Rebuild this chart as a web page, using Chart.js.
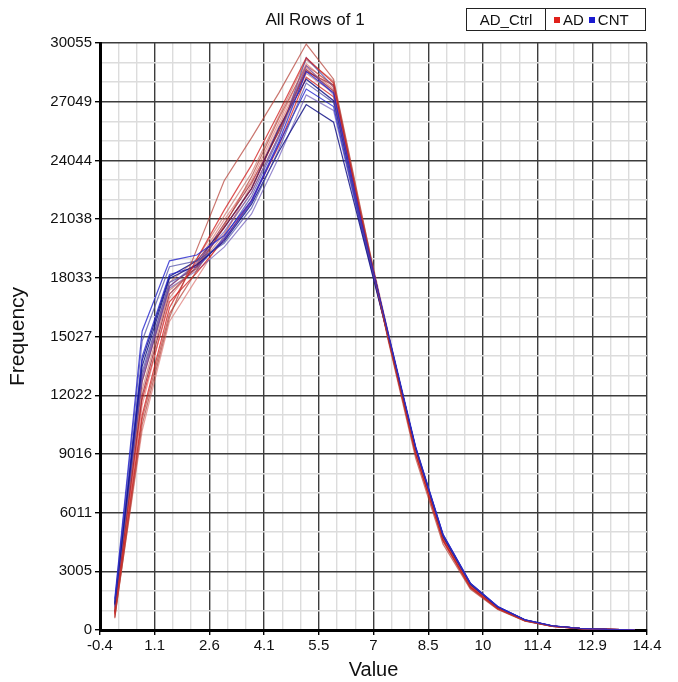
<!DOCTYPE html>
<html>
<head>
<meta charset="utf-8">
<script src="https://cdn.jsdelivr.net/npm/chart.js@4.4.1/dist/chart.umd.min.js"></script>
<style>
  body { margin: 0; background: #fff; font-family: "Liberation Sans", Arial, sans-serif; }
  #wrap { position: relative; width: 678px; height: 682px; }
  #title { position: absolute; left: 225px; width: 180px; top: 10px; text-align: center; font-size: 17px; color: #111; }
  #legend { position: absolute; left: 466px; top: 8px; width: 180px; height: 23px; border: 1px solid #222;
            display: flex; font-size: 15px; color: #111; box-sizing: border-box; }
  #legend .cell { display: flex; align-items: center; padding: 0 6px; }
  #legend .first { border-right: 1px solid #222; width: 79px; justify-content: center; box-sizing: border-box; }
  #legend .sq { width: 6px; height: 6px; display: inline-block; margin: 0 3px 0 2px; }
</style>
</head>
<body>
<div id="wrap">
  <canvas id="myChart"></canvas>
  <div id="title">All Rows of 1</div>
  <div id="legend">
    <div class="cell first">AD_Ctrl</div>
    <div class="cell"><span class="sq" style="background:#e0201a"></span>AD<span class="sq" style="background:#1a1ad0;margin-left:5px"></span>CNT</div>
  </div>
</div>
<script>
// bin centres along x
var xValues = [0, 0.74, 1.48, 2.22, 2.96, 3.7, 4.44, 5.18, 5.92, 6.66, 7.4, 8.14, 8.88, 9.62, 10.36, 11.1, 11.84, 12.58, 13.32, 14.06];

var xTickLabels = ['-0.4', '1.1', '2.6', '4.1', '5.5', '7', '8.5', '10', '11.4', '12.9', '14.4'];
var yTickLabels = ['0', '3005', '6011', '9016', '12022', '15027', '18033', '21038', '24044', '27049', '30055'];

// AD rows (red)
var adRows = [
  [600, 10500, 16000, 19500, 23000, 25200, 27500, 30000, 28200, 21500, 14800, 8800, 4400, 2100, 1050, 450, 180, 70, 25, 8],
  [800, 11000, 16500, 19000, 21500, 23800, 26500, 29300, 28000, 21200, 14900, 9000, 4600, 2200, 1100, 480, 190, 75, 28, 9],
  [700, 11500, 17000, 18800, 21000, 23000, 26000, 29000, 27800, 21000, 15000, 9100, 4700, 2250, 1120, 490, 200, 78, 30, 10],
  [900, 12000, 17200, 18600, 20600, 22600, 25600, 28700, 27600, 21100, 15100, 9200, 4750, 2280, 1130, 500, 200, 80, 30, 10],
  [1000, 12300, 17400, 18500, 20300, 22400, 25300, 28500, 27500, 21000, 15000, 9150, 4700, 2270, 1140, 500, 200, 80, 30, 10],
  [650, 10800, 16200, 18400, 20700, 23200, 26200, 28900, 27900, 21300, 15000, 9000, 4550, 2150, 1080, 470, 190, 74, 27, 9],
  [850, 11800, 16800, 18300, 20000, 22000, 24800, 28300, 27300, 20900, 14900, 9050, 4650, 2200, 1100, 480, 195, 76, 28, 9],
  [750, 10200, 15800, 18000, 20200, 22800, 25800, 28800, 27700, 21200, 15000, 9100, 4600, 2180, 1090, 470, 190, 75, 28, 9],
  [950, 12700, 17600, 18700, 20800, 22900, 25500, 28600, 27900, 21100, 15100, 9250, 4800, 2300, 1150, 510, 205, 82, 31, 10],
  [1100, 13000, 17800, 19000, 21200, 23400, 26300, 29200, 28100, 21400, 15200, 9200, 4700, 2250, 1130, 490, 200, 78, 30, 10]
];

// CNT rows (blue)
var cntRows = [
  [1600, 15300, 18900, 19200, 20200, 22000, 25000, 28600, 27500, 21000, 15200, 9400, 4900, 2400, 1200, 520, 210, 85, 32, 11],
  [1500, 14800, 18600, 18900, 19800, 21600, 24600, 28000, 27000, 20800, 15100, 9350, 4850, 2380, 1190, 515, 205, 83, 31, 10],
  [1300, 13500, 18000, 18700, 19900, 21800, 24500, 26900, 26000, 20500, 15000, 9300, 4800, 2350, 1170, 510, 205, 82, 31, 10],
  [1200, 13000, 17600, 18800, 20400, 22400, 25300, 28900, 27400, 20900, 15100, 9300, 4850, 2370, 1180, 510, 205, 82, 31, 10],
  [1400, 14000, 18200, 18600, 20000, 21900, 24900, 27700, 26800, 20700, 15050, 9350, 4900, 2400, 1200, 520, 210, 84, 32, 11],
  [1250, 13200, 17800, 18500, 20100, 22200, 25200, 29300, 27800, 21100, 15150, 9250, 4800, 2340, 1160, 505, 205, 82, 31, 10],
  [1350, 13800, 18100, 18900, 20600, 22600, 25700, 28200, 27100, 20900, 15100, 9300, 4830, 2360, 1180, 510, 205, 82, 31, 10],
  [1150, 12800, 17500, 18400, 19600, 21300, 24200, 27400, 26600, 20600, 15000, 9300, 4870, 2380, 1190, 515, 208, 83, 31, 10]
];

var redShades = ['rgba(180,60,50,0.7)', 'rgba(210,25,25,0.75)', 'rgba(215,95,90,0.6)', 'rgba(150,25,40,0.75)', 'rgba(195,105,95,0.65)'];
var blueShades = ['rgba(35,35,205,0.8)', 'rgba(70,70,165,0.7)', 'rgba(20,20,135,0.85)', 'rgba(95,75,180,0.65)'];

function toPoints(row) {
  return row.map(function (v, i) { return { x: xValues[i], y: v }; });
}

// mix red and blue so neither colour sits entirely on top
var datasets = [];
var n = Math.max(adRows.length, cntRows.length);
for (var i = 0; i < n; i++) {
  if (i < cntRows.length) datasets.push({ label: 'CNT', data: toPoints(cntRows[i]), borderColor: blueShades[i % blueShades.length] });
  if (i < adRows.length) datasets.push({ label: 'AD', data: toPoints(adRows[i]), borderColor: redShades[i % redShades.length] });
}
datasets.forEach(function (d) { d.borderWidth = 1.2; d.pointRadius = 0; d.tension = 0; d.fill = false; });

function majorOrMinor(ctx, major, minor) {
  return ctx.index % 3 === 0 ? major : minor;
}

function buildTicks(min, max) {
  return function (scale) {
    var t = [];
    for (var i = 0; i <= 30; i++) t.push({ value: min + (max - min) * i / 30 });
    scale.ticks = t;
  };
}

const ctx = document.getElementById('myChart');
new Chart(ctx, {
  type: 'line',
  data: { datasets: datasets },
  options: {
    responsive: true,
    maintainAspectRatio: false,
    animation: false,
    layout: { padding: { left: 6, right: 31, top: 43, bottom: 0 } },
    plugins: {
      legend: { display: false },
      title: { display: false },
      tooltip: { enabled: false }
    },
    scales: {
      x: {
        type: 'linear',
        min: -0.4,
        max: 14.4,
        afterBuildTicks: buildTicks(-0.4, 14.4),
        afterFit: function (scale) { scale.height = 52; },
        ticks: {
          autoSkip: false,
          maxRotation: 0,
          padding: 2,
          color: '#111',
          font: { family: 'Liberation Sans', size: 15 },
          callback: function (v, i) { return i % 3 === 0 ? xTickLabels[i / 3] : ''; }
        },
        grid: {
          color: function (c) { return majorOrMinor(c, '#3c3c3c', '#dcdcdc'); },
          lineWidth: 1.4,
          tickColor: function (c) { return majorOrMinor(c, '#000', 'rgba(0,0,0,0)'); },
          tickLength: 5
        },
        border: { display: true, color: '#000', width: 3 },
        title: {
          display: true,
          text: 'Value',
          color: '#111',
          font: { family: 'Liberation Sans', size: 20 },
          padding: { top: 0, bottom: 0 }
        }
      },
      y: {
        type: 'linear',
        min: 0,
        max: 30055,
        afterBuildTicks: buildTicks(0, 30055),
        afterFit: function (scale) { scale.width = 94; },
        ticks: {
          autoSkip: false,
          padding: 3,
          color: '#111',
          font: { family: 'Liberation Sans', size: 15 },
          callback: function (v, i) { return i % 3 === 0 ? yTickLabels[i / 3] : ''; }
        },
        grid: {
          color: function (c) { return majorOrMinor(c, '#3c3c3c', '#dcdcdc'); },
          lineWidth: 1.4,
          tickColor: function (c) { return majorOrMinor(c, '#000', 'rgba(0,0,0,0)'); },
          tickLength: 5
        },
        border: { display: true, color: '#000', width: 3 },
        title: {
          display: true,
          text: 'Frequency',
          color: '#111',
          font: { family: 'Liberation Sans', size: 21 },
          padding: { top: 0, bottom: 4 }
        }
      }
    }
  }
});
</script>
</body>
</html>
